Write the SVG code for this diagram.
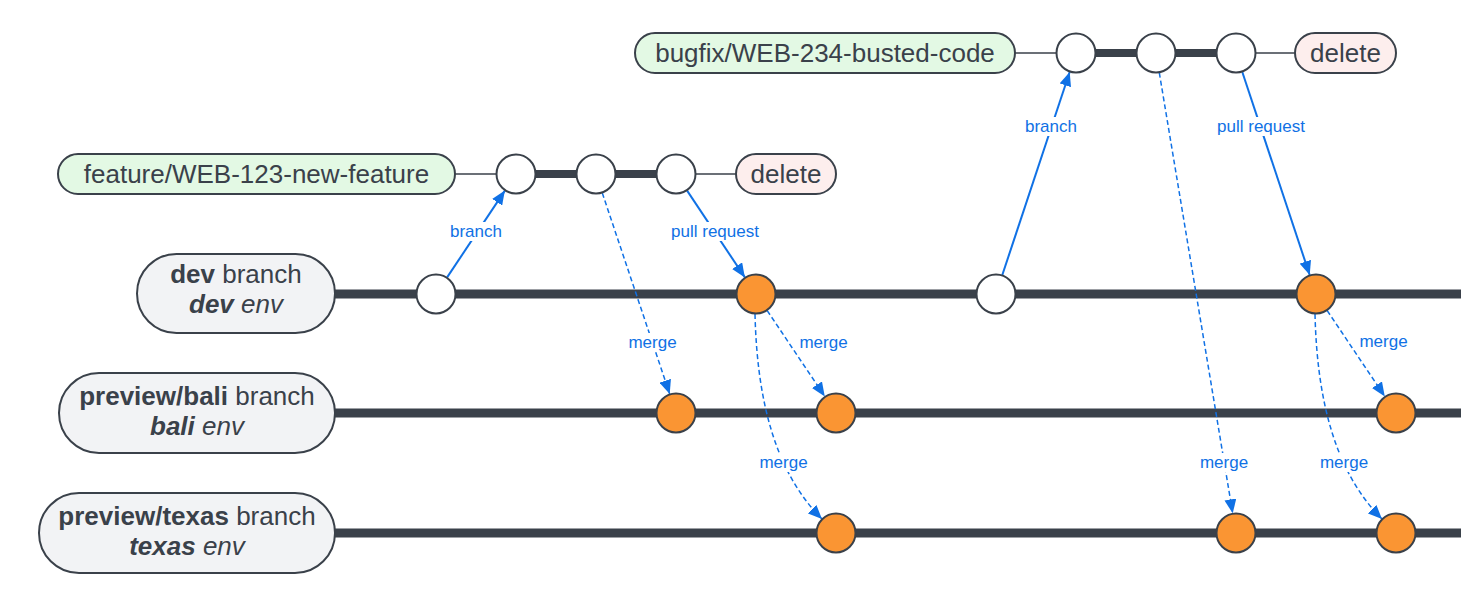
<svg xmlns="http://www.w3.org/2000/svg" width="1461" height="614" viewBox="0 0 1461 614">
<style>
.pill{stroke:#3a414a;stroke-width:2}
.env{fill:#f2f3f5}
.grn{fill:#e3f9e4}
.del{fill:#fdeeed}
.t{font-family:"Liberation Sans",Arial,sans-serif;font-size:26px;fill:#3a414a;text-anchor:middle}
.c{stroke:#3a414a;stroke-width:2}
.w{fill:#ffffff}
.o{fill:#fa9533}
.rail{stroke:#3a414a;stroke-width:9;fill:none}
.brl{stroke:#3a414a;stroke-width:8;fill:none}
.thin{stroke:#3a414a;stroke-width:1.5;fill:none}
.sol{stroke:#1071e5;stroke-width:2;fill:none;marker-end:url(#ah)}
.dsh{stroke:#1071e5;stroke-width:1.5;stroke-dasharray:5 3;fill:none;marker-end:url(#ah)}
.lb{font-family:"Liberation Sans",Arial,sans-serif;font-size:17px;fill:#1071e5;text-anchor:middle}
.bg{fill:#ffffff}
</style>
<defs>
<marker id="ah" viewBox="0 0 14 12" refX="14" refY="6" markerWidth="14" markerHeight="12" orient="auto" markerUnits="userSpaceOnUse"><path d="M0,0 L14,6 L0,12 z" fill="#1071e5"/></marker>
</defs>
<rect width="1461" height="614" fill="#ffffff"/>
<g id="connectors">
<line class="rail" x1="335" y1="294" x2="1461" y2="294"/>
<line class="rail" x1="335" y1="413" x2="1461" y2="413"/>
<line class="rail" x1="335" y1="533" x2="1461" y2="533"/>
<line class="thin" x1="455" y1="174" x2="497" y2="174"/>
<line class="brl" x1="535" y1="174" x2="657" y2="174"/>
<line class="thin" x1="695" y1="174" x2="736" y2="174"/>
<line class="thin" x1="1015" y1="53" x2="1057" y2="53"/>
<line class="brl" x1="1095" y1="53" x2="1217" y2="53"/>
<line class="thin" x1="1255" y1="53" x2="1295" y2="53"/>
<path class="sol" d="M447.1,277.4 L504.9,190.6"/>
<path class="sol" d="M687.1,190.6 L744.9,277.4"/>
<path class="sol" d="M1002.3,275 L1069.7,72"/>
<path class="sol" d="M1242.3,72 L1309.7,275"/>
<path class="dsh" d="M602.3,193 L669.7,394"/>
<path class="dsh" d="M767.2,310.6 L824.8,396.4"/>
<path class="dsh" d="M1327.2,310.6 L1384.8,396.4"/>
<path class="dsh" d="M1159.3,72.7 L1232.7,513.3"/>
<path class="dsh" d="M755,314 C757,400 775,472 822,519"/>
<path class="dsh" d="M1315,314 C1317,400 1335,472 1382,519"/>
<rect class="bg" x="447" y="222" width="58" height="19"/><text class="lb" x="476" y="237">branch</text>
<rect class="bg" x="668" y="222" width="94" height="19"/><text class="lb" x="715" y="237">pull request</text>
<rect class="bg" x="1022" y="117" width="58" height="19"/><text class="lb" x="1051" y="132">branch</text>
<rect class="bg" x="1214" y="117" width="94" height="19"/><text class="lb" x="1261" y="132">pull request</text>
<rect class="bg" x="626" y="333" width="53" height="19"/><text class="lb" x="652.5" y="348">merge</text>
<rect class="bg" x="797" y="333" width="53" height="19"/><text class="lb" x="823.5" y="348">merge</text>
<rect class="bg" x="757" y="453" width="53" height="19"/><text class="lb" x="783.5" y="468">merge</text>
<rect class="bg" x="1357" y="332" width="53" height="19"/><text class="lb" x="1383.5" y="347">merge</text>
<rect class="bg" x="1197" y="453" width="53" height="19"/><text class="lb" x="1224" y="468">merge</text>
<rect class="bg" x="1317" y="453" width="53" height="19"/><text class="lb" x="1344" y="468">merge</text>
</g>
<g id="dev-label"><rect class="pill env" x="137" y="254" width="198" height="79" rx="39.5"/><text class="t" x="236" y="283"><tspan font-weight="bold">dev</tspan> branch</text><text class="t" x="236" y="313" font-style="italic"><tspan font-weight="bold">dev</tspan> env</text></g>
<g id="bali-label"><rect class="pill env" x="59" y="373" width="276" height="80" rx="40"/><text class="t" x="197" y="405"><tspan font-weight="bold">preview/bali</tspan> branch</text><text class="t" x="197" y="435" font-style="italic"><tspan font-weight="bold">bali</tspan> env</text></g>
<g id="texas-label"><rect class="pill env" x="39" y="493" width="296" height="80" rx="40"/><text class="t" x="187" y="525"><tspan font-weight="bold">preview/texas</tspan> branch</text><text class="t" x="187" y="555" font-style="italic"><tspan font-weight="bold">texas</tspan> env</text></g>
<g id="feature-label"><rect class="pill grn" x="58" y="154" width="397" height="40" rx="20"/><text class="t" x="256.5" y="183">feature/WEB-123-new-feature</text></g>
<g id="bugfix-label"><rect class="pill grn" x="635" y="33" width="380" height="40" rx="20"/><text class="t" x="825" y="62">bugfix/WEB-234-busted-code</text></g>
<g id="delete-feature"><rect class="pill del" x="736" y="154" width="100" height="40" rx="20"/><text class="t" x="786" y="183">delete</text></g>
<g id="delete-bugfix"><rect class="pill del" x="1295" y="33" width="101" height="40" rx="20"/><text class="t" x="1345.5" y="62">delete</text></g>
<g id="dev-c1"><circle class="c w" cx="436" cy="294" r="19.5"/></g>
<g id="dev-c2"><circle class="c o" cx="756" cy="294" r="19.5"/></g>
<g id="dev-c3"><circle class="c w" cx="996" cy="294" r="19.5"/></g>
<g id="dev-c4"><circle class="c o" cx="1316" cy="294" r="19.5"/></g>
<g id="bali-c1"><circle class="c o" cx="676" cy="413" r="19.5"/></g>
<g id="bali-c2"><circle class="c o" cx="836" cy="413" r="19.5"/></g>
<g id="bali-c3"><circle class="c o" cx="1396" cy="413" r="19.5"/></g>
<g id="texas-c1"><circle class="c o" cx="836" cy="533" r="19.5"/></g>
<g id="texas-c2"><circle class="c o" cx="1236" cy="533" r="19.5"/></g>
<g id="texas-c3"><circle class="c o" cx="1396" cy="533" r="19.5"/></g>
<g id="feature-c1"><circle class="c w" cx="516" cy="174" r="19.5"/></g>
<g id="feature-c2"><circle class="c w" cx="596" cy="174" r="19.5"/></g>
<g id="feature-c3"><circle class="c w" cx="676" cy="174" r="19.5"/></g>
<g id="bugfix-c1"><circle class="c w" cx="1076" cy="53" r="19.5"/></g>
<g id="bugfix-c2"><circle class="c w" cx="1156" cy="53" r="19.5"/></g>
<g id="bugfix-c3"><circle class="c w" cx="1236" cy="53" r="19.5"/></g>
</svg>
